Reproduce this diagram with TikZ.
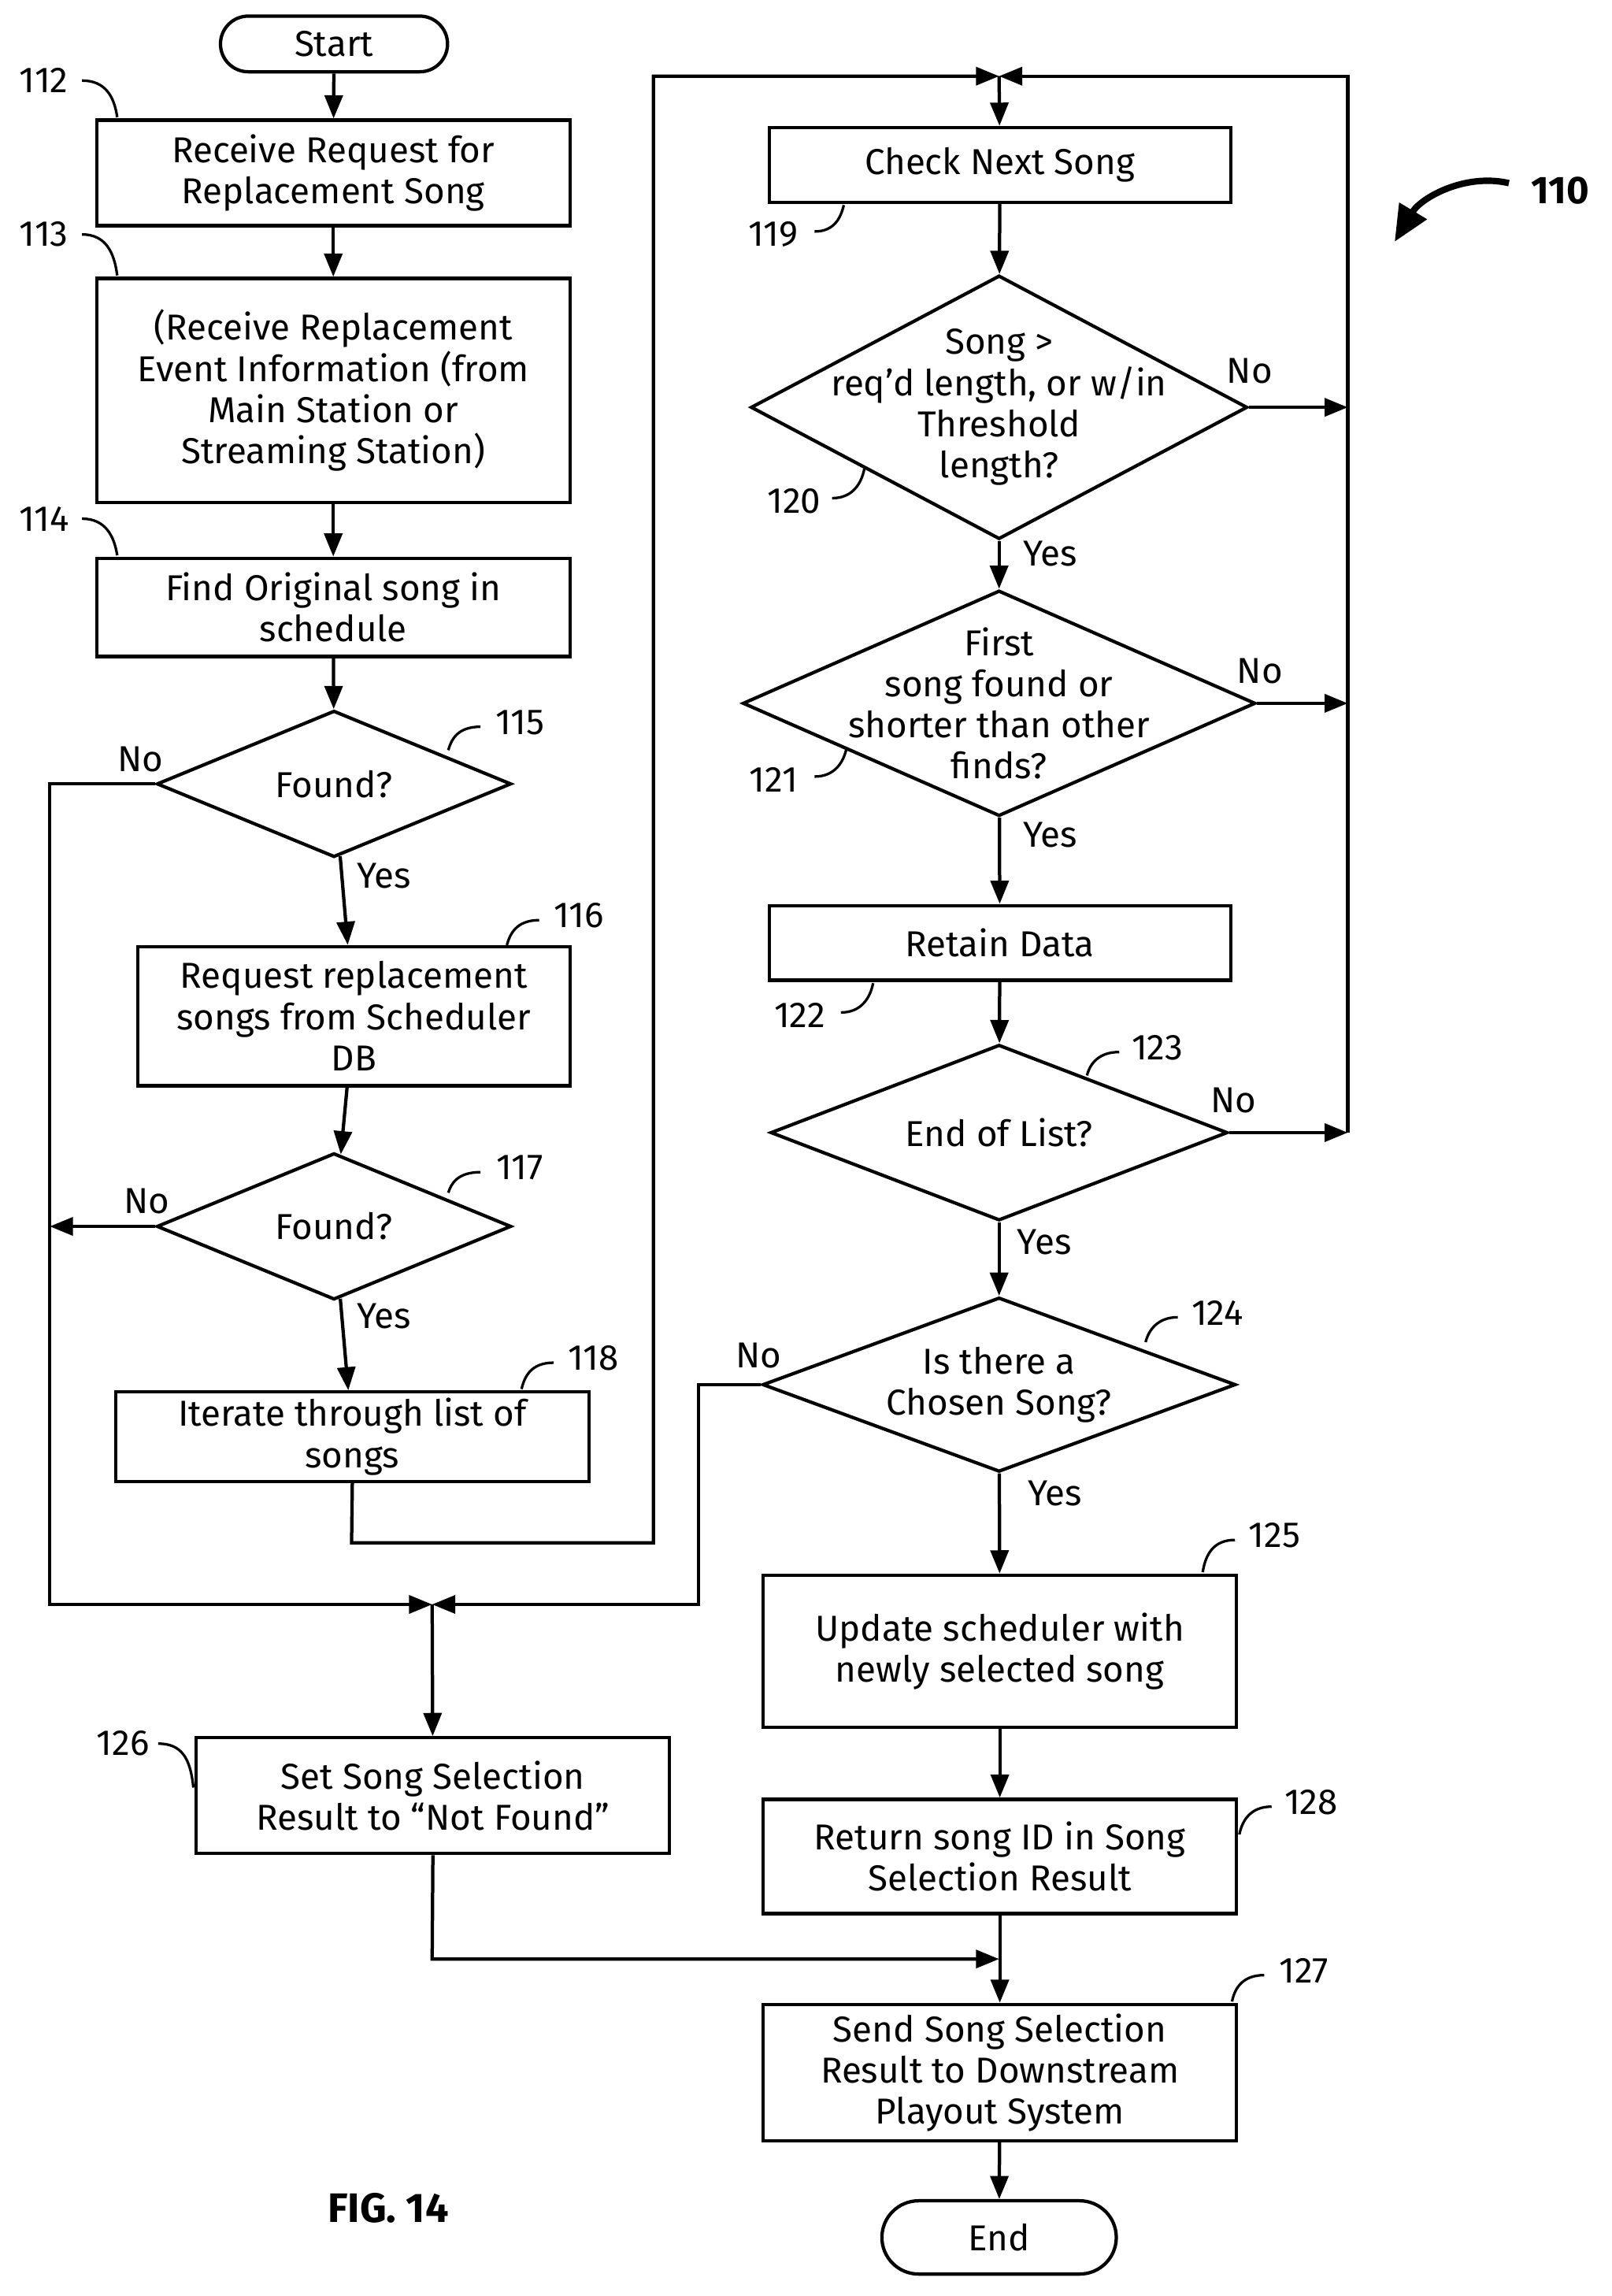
\documentclass[tikz,border=0pt]{standalone}
\usepackage{fontspec}
\setmainfont{Fira Sans}
\usetikzlibrary{shapes.geometric,shapes.misc,arrows.meta}
\begin{document}
\begin{tikzpicture}[x=0.02cm,y=-0.02cm,line width=1.3pt,
 font=\fontsize{14}{16}\selectfont,
 box/.style={draw,rectangle,align=center,inner sep=0pt},
 dia/.style={draw,diamond,inner sep=0pt},
 term/.style={draw,rounded rectangle,inner sep=0pt},
 arr/.style={-{Triangle[length=9pt,width=7pt]}},
 lab/.style={font=\fontsize{14}{16}\selectfont},
 ref/.style={font=\fontsize{14}{16}\selectfont}]
\useasboundingbox (0,0) rectangle (1100,1567);
% left column
\node[term,minimum width=155*0.02cm,minimum height=38*0.02cm] (start) at (228,30) {Start};
\node[box,minimum width=323*0.02cm,minimum height=72*0.02cm] (b112) at (227.5,118) {Receive Request for\\Replacement Song};
\node[box,minimum width=323*0.02cm,minimum height=153*0.02cm] (b113) at (227.5,266.5) {(Receive Replacement\\Event Information (from\\Main Station or\\Streaming Station)};
\node[box,minimum width=323*0.02cm,minimum height=67*0.02cm] (b114) at (227.5,414.5) {Find Original song in\\schedule};
\node[dia,minimum width=242*0.02cm,minimum height=100*0.02cm,label=center:Found?] (d115) at (228,535) {};
\node[box,minimum width=295*0.02cm,minimum height=95*0.02cm] (b116) at (241.5,693.5) {Request replacement\\songs from Scheduler\\DB};
\node[dia,minimum width=242*0.02cm,minimum height=100*0.02cm,label=center:Found?] (d117) at (228,837) {};
\node[box,minimum width=323*0.02cm,minimum height=61*0.02cm] (b118) at (240.5,980.5) {Iterate through list of\\songs};
\node[box,minimum width=323*0.02cm,minimum height=79*0.02cm] (b126) at (295.5,1225.5) {Set Song Selection\\Result to ``Not Found''};
% right column
\node[box,minimum width=315*0.02cm,minimum height=51*0.02cm] (b119) at (682.5,112.5) {Check Next Song};
\node[dia,minimum width=339*0.02cm,minimum height=180*0.02cm,label={[align=center]center:Song >\\req'd length, or w/in\\Threshold\\length?}] (d120) at (682,278) {};
\node[dia,minimum width=350*0.02cm,minimum height=154*0.02cm,label={[align=center]center:First\\song found or\\shorter than other\\finds?}] (d121) at (682,480) {};
\node[box,minimum width=315*0.02cm,minimum height=51*0.02cm] (b122) at (682.5,643.5) {Retain Data};
\node[dia,minimum width=312*0.02cm,minimum height=120*0.02cm,label=center:End of List?] (d123) at (682,773) {};
\node[dia,minimum width=323*0.02cm,minimum height=119*0.02cm,label={[align=center]center:Is there a\\Chosen Song?}] (d124) at (682,945) {};
\node[box,minimum width=323*0.02cm,minimum height=104*0.02cm] (b125) at (682.5,1127) {Update scheduler with\\newly selected song};
\node[box,minimum width=323*0.02cm,minimum height=78*0.02cm] (b128) at (682.5,1267) {Return song ID in Song\\Selection Result};
\node[box,minimum width=323*0.02cm,minimum height=93*0.02cm] (b127) at (682.5,1414.5) {Send Song Selection\\Result to Downstream\\Playout System};
\node[term,minimum width=160*0.02cm,minimum height=50*0.02cm] (end) at (682,1527) {End};
\coordinate (top) at (682,52);
\coordinate (join) at (295,1095);
\coordinate (join2) at (682,1337);
% connectors
\draw[arr] (start) -- (b112);
\draw[arr] (b112) -- (b113);
\draw[arr] (b113) -- (b114);
\draw[arr] (b114) -- (d115);
\draw[arr] (d115) -- (b116);
\draw[arr] (b116) -- (d117);
\draw[arr] (d117) -- (b118);
\draw[arr] (d115.west) -- (34,535) -- (34,1095) -- (join);
\draw[arr] (d117.west) -- (34,837);
\draw[arr] (d124.west) -- (477,945) -- (477,1095) -- (join);
\draw[arr] (join) -- (b126);
\draw[arr] (b118.south) -- (240,1053) -- (446,1053) -- (446,52) -- (top);
\draw[arr] (920,773) -- (920,52) -- (top);
\draw[arr] (top) -- (b119);
\draw[arr] (b119) -- (d120);
\draw[arr] (d120) -- (d121);
\draw[arr] (d121) -- (b122);
\draw[arr] (b122) -- (d123);
\draw[arr] (d123) -- (d124);
\draw[arr] (d124) -- (b125);
\draw[arr] (b125) -- (b128);
\draw[arr] (b128) -- (b127);
\draw[arr] (b127) -- (end);
\draw[arr] (d120.east) -- (920,278);
\draw[arr] (d121.east) -- (920,480);
\draw[arr] (d123.east) -- (920,773);
\draw[arr] (b126.south) -- (295,1337) -- (join2);
% yes/no
\node[lab] at (96,518) {No}; \node[lab] at (262,598) {Yes};
\node[lab] at (100,820) {No}; \node[lab] at (262,898) {Yes};
\node[lab] at (853,253) {No}; \node[lab] at (717,378) {Yes};
\node[lab] at (860,458) {No}; \node[lab] at (717,570) {Yes};
\node[lab] at (842,751) {No}; \node[lab] at (713,848) {Yes};
\node[lab] at (518,925) {No}; \node[lab] at (720,1019) {Yes};
% reference numbers with leaders
\begin{scope}[line width=1pt]
\node[ref] (r112) at (30,55) {112}; \draw (56,55) .. controls (72,55) and (78,66) .. (80,80);
\node[ref] (r113) at (30,160) {113}; \draw (56,160) .. controls (72,160) and (78,172) .. (80,188);
\node[ref] (r114) at (30,354) {114}; \draw (56,354) .. controls (72,354) and (78,366) .. (80,379);
\node[ref] (r115) at (355,493) {115}; \draw (328,496) .. controls (312,496) and (308,505) .. (306,512);
\node[ref] (r116) at (395,625) {116}; \draw (368,628) .. controls (352,628) and (348,638) .. (346,645);
\node[ref] (r117) at (355,797) {117}; \draw (328,800) .. controls (312,800) and (308,808) .. (306,814);
\node[ref] (r118) at (405,927) {118}; \draw (378,930) .. controls (362,930) and (358,940) .. (356,948);
\node[ref] (r119) at (528,160) {119}; \draw (556,158) .. controls (570,158) and (574,148) .. (576,140);
\node[ref] (r120) at (542,342) {120}; \draw (568,340) .. controls (582,340) and (588,330) .. (590,320);
\node[ref] (r121) at (528,532) {121}; \draw (556,530) .. controls (570,530) and (576,520) .. (578,510);
\node[ref] (r122) at (546,693) {122}; \draw (574,691) .. controls (588,691) and (594,681) .. (596,671);
\node[ref] (r123) at (790,715) {123}; \draw (764,718) .. controls (750,718) and (744,726) .. (742,734);
\node[ref] (r124) at (831,896) {124}; \draw (804,899) .. controls (790,899) and (784,908) .. (782,916);
\node[ref] (r125) at (870,1048) {125}; \draw (843,1051) .. controls (829,1051) and (823,1060) .. (821,1073);
\node[ref] (r126) at (84,1190) {126}; \draw (108,1190) .. controls (124,1190) and (130,1200) .. (132,1220);
\node[ref] (r127) at (890,1345) {127}; \draw (863,1348) .. controls (849,1348) and (843,1356) .. (841,1366);
\node[ref] (r128) at (895,1230) {128}; \draw (868,1233) .. controls (854,1233) and (848,1242) .. (846,1252);
\end{scope}
\node[font=\bfseries\fontsize{15}{17}\selectfont] (n110) at (1065,130) {110};
\draw[line width=2.5pt,-{Triangle[length=14pt,width=12pt]}] (1030,125) .. controls (1000,118) and (970,135) .. (952,165);
\node[font=\bfseries\fontsize{16}{18}\selectfont] (fig) at (265,1507) {FIG. 14};
\end{tikzpicture}
\end{document}
